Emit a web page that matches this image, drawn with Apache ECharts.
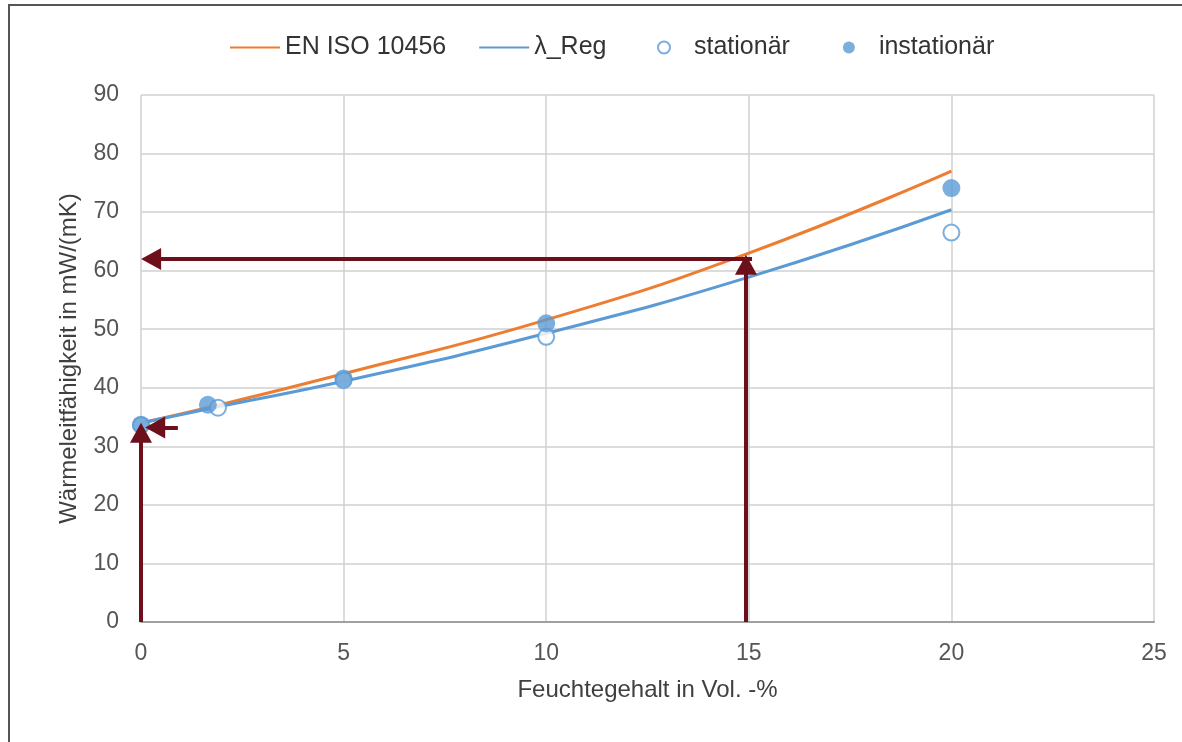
<!DOCTYPE html>
<html>
<head>
<meta charset="utf-8">
<script src="https://cdn.jsdelivr.net/npm/echarts@6/dist/echarts.min.js"></script>
<style>html,body{margin:0;padding:0;background:#fff;}#c{width:1182px;height:742px;}</style>
</head>
<body>
<div id="c"></div>
<script>
// Curve data (x = Feuchtegehalt, y = Wärmeleitfähigkeit)
const isoX = [0, 2, 5, 10, 15, 20];
const isoY = [34.0, 37.2, 42.4, 51.6, 63.0, 77.0];
const regX = [0, 2, 5, 10, 15, 20];
const regY = [34.0, 36.9, 41.1, 49.3, 58.9, 70.4];
// Measured points
const statX = [0, 1.9, 5, 10, 20];
const statY = [33.6, 36.6, 41.3, 48.7, 66.5];
const instX = [0, 1.65, 5, 10, 20];
const instY = [33.7, 37.1, 41.6, 51.0, 74.1];
// Arrows: [x0, y0, x1, y1]
const arrows = [
  [14.93, 0, 14.93, 61.0],
  [15.08, 62.0, 0.25, 62.0],
  [0, 0, 0, 32.3],
  [0.91, 33.2, 0.35, 33.2]
];
const xTicks = {min: 0, max: 25, interval: 5};
const yTicks = {min: 0, max: 90, interval: 10};

const zip = (xs, ys) => xs.map((x, i) => [x, ys[i]]);
const font = 'Liberation Sans, Arial, sans-serif';
const legendText = {fontFamily: font, fontSize: 25, color: '#333'};
const chart = echarts.init(document.getElementById('c'));
chart.setOption({
  animation: false,
  backgroundColor: '#fff',
  graphic: [{
    type: 'rect', shape: {x: 9, y: 5, width: 1300, height: 900},
    style: {fill: 'none', stroke: '#555', lineWidth: 2}, silent: true, z: -1
  }],
  grid: {left: 141, right: 28, top: 95, bottom: 120},
  legend: [{
    left: 224, top: 30, itemWidth: 50, itemHeight: 12, itemGap: 32,
    textStyle: legendText,
    data: [
      {name: 'EN ISO 10456', itemStyle: {opacity: 0}},
      {name: 'λ_Reg', itemStyle: {opacity: 0}}
    ]
  }, {
    left: 652, top: 30, itemWidth: 50, itemHeight: 12, itemGap: 53,
    textStyle: legendText,
    data: [
      {name: 'stationär'},
      {name: 'instationär'}
    ]
  }],
  xAxis: {
    type: 'value', min: xTicks.min, max: xTicks.max, interval: xTicks.interval,
    name: 'Feuchtegehalt in Vol. -%', nameLocation: 'middle', nameGap: 56,
    nameTextStyle: {fontFamily: font, fontSize: 24, color: '#404040'},
    axisLine: {show: true, lineStyle: {color: '#a0a0a0', width: 2}},
    axisTick: {show: false},
    axisLabel: {fontFamily: font, fontSize: 23, color: '#555', margin: 20},
    splitLine: {show: true, lineStyle: {color: '#d0d0d0', width: 1.5}}
  },
  yAxis: {
    type: 'value', min: yTicks.min, max: yTicks.max, interval: yTicks.interval,
    name: 'Wärmeleitfähigkeit in mW/(mK)', nameLocation: 'middle', nameGap: 60,
    nameTextStyle: {fontFamily: font, fontSize: 24, color: '#404040'},
    axisLine: {show: false},
    axisTick: {show: false},
    axisLabel: {fontFamily: font, fontSize: 23, color: '#555', margin: 22},
    splitLine: {show: true, lineStyle: {color: '#d0d0d0', width: 1.5}}
  },
  series: [
    {
      name: 'EN ISO 10456', type: 'line', smooth: true, symbol: 'none',
      data: zip(isoX, isoY), lineStyle: {color: '#ed7d31', width: 3},
      itemStyle: {color: '#ed7d31'}, z: 2
    },
    {
      name: 'λ_Reg', type: 'line', smooth: true, symbol: 'none',
      data: zip(regX, regY), lineStyle: {color: '#5b9bd5', width: 3},
      itemStyle: {color: '#5b9bd5'}, z: 2
    },
    {
      name: 'stationär', type: 'scatter', symbol: 'circle', symbolSize: 16,
      data: zip(statX, statY),
      itemStyle: {color: '#fff', borderColor: '#5b9bd5', borderWidth: 2}, z: 3
    },
    {
      name: 'instationär', type: 'scatter', symbol: 'circle', symbolSize: 18,
      data: zip(instX, instY),
      itemStyle: {color: '#5b9bd5'}, z: 4
    },
    {
      name: 'arrows', type: 'line', data: [], silent: true, z: 10,
      markLine: {
        silent: true, animation: false,
        symbol: ['none', 'triangle'], symbolSize: [22, 20],
        label: {show: false},
        lineStyle: {color: '#6e0f1c', width: 4, type: 'solid'},
        emphasis: {disabled: true},
        data: arrows.map(a => [{coord: [a[0], a[1]]}, {coord: [a[2], a[3]]}])
      }
    }
  ]
});
</script>
</body>
</html>
